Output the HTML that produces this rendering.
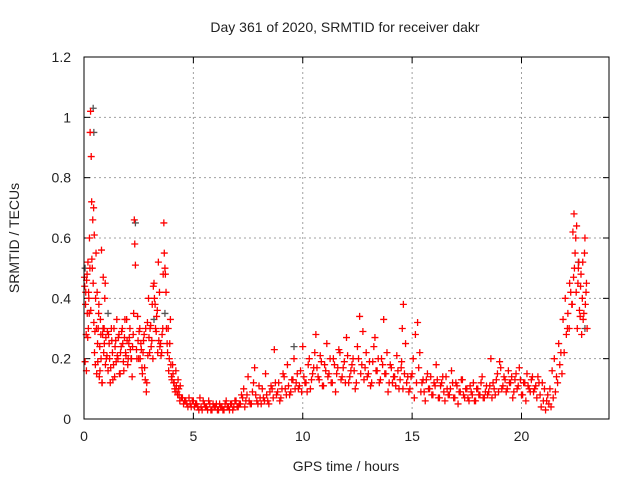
<!DOCTYPE html>
<html><head><meta charset="utf-8"><style>
body{margin:0;background:#fff}
svg text{font-family:"Liberation Sans",sans-serif;font-size:14px;fill:#222}
</style></head><body>
<svg id="chart" width="640" height="480" xmlns="http://www.w3.org/2000/svg">
<text x="345" y="32" text-anchor="middle">Day 361 of 2020, SRMTID for receiver dakr</text>
<text x="346" y="471" text-anchor="middle">GPS time / hours</text>
<text x="0" y="0" text-anchor="middle" transform="translate(19,238) rotate(-90)">SRMTID / TECUs</text>
<g id="grid"></g>
<g id="ticks"></g>
<g id="grey"></g>
<g id="red"></g>
<rect x="84" y="57" width="525" height="362" fill="none" stroke="#000" stroke-width="1"/>
</svg>
<script>
const xTicks=[0,5,10,15,20];
const yTicks=[0,0.2,0.4,0.6,0.8,1,1.2];
const yTickLabels=["0","0.2","0.4","0.6","0.8","1","1.2"];
const redT=[0.02,0.05,0.08,0.1,0.12,0.15,0.18,0.2,0.22,0.25,0.28,0.3,0.33,0.35,0.38,0.4,0.42,0.45,0.48,0.5,0.52,0.55,0.58,0.6,0.62,0.65,0.68,0.7,0.72,0.75,0.78,0.8,0.82,0.85,0.88,0.9,0.92,0.95,0.98,1.0,1.05,1.1,1.15,1.2,1.25,1.3,1.35,1.4,1.45,1.5,1.55,1.6,1.65,1.7,1.75,1.8,1.85,1.9,1.95,2.0,2.05,2.1,2.15,2.2,2.25,2.3,2.32,2.35,2.4,2.45,2.5,2.55,2.6,2.65,2.7,2.75,2.8,2.85,2.9,2.95,3.0,3.05,3.1,3.15,3.2,3.25,3.3,3.35,3.4,3.45,3.5,3.55,3.6,3.62,3.65,3.7,3.75,3.8,3.85,3.9,3.95,4.0,4.05,4.1,4.15,4.2,4.25,4.3,4.35,4.4,4.5,4.6,4.7,4.8,4.9,5.0,5.1,5.2,5.3,5.4,5.5,5.6,5.7,5.8,5.9,6.0,6.1,6.2,6.3,6.4,6.5,6.6,6.7,6.8,6.9,7.0,7.1,7.2,7.3,7.4,7.5,7.6,7.7,7.8,7.9,8.0,8.1,8.2,8.3,8.4,8.5,8.6,8.7,8.8,8.9,9.0,9.1,9.2,9.3,9.4,9.5,9.6,9.7,9.8,9.9,10.0,10.1,10.2,10.3,10.4,10.5,10.6,10.7,10.8,10.9,11.0,11.1,11.2,11.3,11.4,11.5,11.6,11.7,11.8,11.9,12.0,12.1,12.2,12.3,12.4,12.5,12.6,12.7,12.8,12.9,13.0,13.1,13.2,13.3,13.4,13.5,13.6,13.7,13.8,13.9,14.0,14.1,14.2,14.3,14.4,14.5,14.55,14.6,14.7,14.8,14.9,15.0,15.1,15.2,15.3,15.4,15.5,15.6,15.7,15.8,15.9,16.0,16.1,16.2,16.3,16.4,16.5,16.6,16.7,16.8,16.9,17.0,17.1,17.2,17.3,17.4,17.5,17.6,17.7,17.8,17.9,18.0,18.1,18.2,18.3,18.4,18.5,18.6,18.7,18.8,18.9,19.0,19.1,19.2,19.3,19.4,19.5,19.6,19.7,19.8,19.9,20.0,20.1,20.2,20.3,20.4,20.5,20.6,20.7,20.8,20.9,21.0,21.1,21.2,21.3,21.4,21.5,21.6,21.7,21.8,21.9,22.0,22.1,22.2,22.3,22.35,22.4,22.45,22.5,22.55,22.6,22.65,22.7,22.75,22.8,22.85,22.9,22.95,23.0];
const redV=[0.47,0.19,0.42,0.28,0.46,0.35,0.52,0.3,0.4,0.6,0.95,1.02,0.87,0.72,0.5,0.66,0.45,0.32,0.22,0.29,0.18,0.55,0.15,0.42,0.25,0.3,0.38,0.14,0.24,0.33,0.2,0.56,0.12,0.28,0.47,0.22,0.3,0.4,0.18,0.27,0.21,0.16,0.25,0.12,0.3,0.22,0.18,0.14,0.26,0.33,0.2,0.28,0.15,0.24,0.3,0.19,0.27,0.22,0.33,0.18,0.25,0.3,0.2,0.14,0.28,0.66,0.58,0.51,0.23,0.34,0.2,0.3,0.25,0.17,0.22,0.28,0.13,0.09,0.32,0.4,0.22,0.31,0.26,0.2,0.45,0.38,0.29,0.36,0.52,0.42,0.25,0.22,0.3,0.48,0.65,0.5,0.42,0.25,0.3,0.2,0.33,0.14,0.18,0.12,0.1,0.16,0.09,0.13,0.08,0.11,0.07,0.06,0.05,0.07,0.04,0.06,0.05,0.04,0.07,0.03,0.05,0.04,0.06,0.03,0.05,0.04,0.03,0.05,0.04,0.03,0.06,0.04,0.05,0.03,0.06,0.04,0.05,0.08,0.1,0.06,0.14,0.05,0.09,0.17,0.06,0.11,0.05,0.07,0.15,0.06,0.09,0.1,0.23,0.08,0.12,0.07,0.15,0.1,0.18,0.08,0.13,0.2,0.12,0.1,0.16,0.24,0.12,0.09,0.2,0.13,0.17,0.28,0.14,0.21,0.11,0.18,0.25,0.15,0.12,0.2,0.09,0.17,0.22,0.14,0.19,0.27,0.12,0.16,0.2,0.1,0.24,0.34,0.18,0.13,0.22,0.15,0.11,0.19,0.27,0.16,0.12,0.2,0.33,0.15,0.09,0.18,0.12,0.14,0.21,0.1,0.17,0.3,0.38,0.25,0.14,0.1,0.15,0.07,0.12,0.17,0.09,0.13,0.06,0.15,0.1,0.08,0.12,0.18,0.07,0.11,0.14,0.06,0.1,0.08,0.16,0.07,0.12,0.05,0.09,0.13,0.07,0.1,0.06,0.09,0.12,0.06,0.1,0.08,0.14,0.07,0.11,0.09,0.2,0.12,0.08,0.15,0.19,0.1,0.14,0.09,0.16,0.12,0.07,0.13,0.1,0.17,0.08,0.12,0.06,0.11,0.09,0.14,0.1,0.07,0.12,0.04,0.06,0.03,0.08,0.1,0.16,0.2,0.14,0.25,0.22,0.33,0.4,0.3,0.45,0.38,0.62,0.68,0.55,0.42,0.3,0.5,0.36,0.44,0.28,0.52,0.35,0.6,0.42,0.3];
const red2T=[0.03,0.07,0.11,0.14,0.17,0.21,0.24,0.27,0.31,0.36,0.44,0.47,0.53,0.57,0.63,0.67,0.73,0.77,0.83,0.87,0.93,0.97,1.02,1.07,1.12,1.17,1.22,1.27,1.32,1.37,1.42,1.47,1.52,1.57,1.62,1.67,1.72,1.77,1.82,1.87,1.92,1.97,2.02,2.07,2.12,2.17,2.22,2.27,2.42,2.47,2.52,2.57,2.62,2.67,2.72,2.77,2.82,2.87,2.92,2.97,3.02,3.07,3.12,3.17,3.22,3.27,3.32,3.37,3.42,3.47,3.52,3.57,3.67,3.72,3.77,3.82,3.87,3.92,3.97,4.02,4.07,4.12,4.17,4.22,4.28,4.33,4.38,4.45,4.55,4.65,4.75,4.85,4.95,5.05,5.15,5.25,5.35,5.45,5.55,5.65,5.75,5.85,5.95,6.05,6.15,6.25,6.35,6.45,6.55,6.65,6.75,6.85,6.95,7.05,7.15,7.25,7.35,7.45,7.55,7.65,7.75,7.85,7.95,8.05,8.15,8.25,8.35,8.45,8.55,8.65,8.75,8.85,8.95,9.05,9.15,9.25,9.35,9.45,9.55,9.65,9.75,9.85,9.95,10.05,10.15,10.25,10.35,10.45,10.55,10.65,10.75,10.85,10.95,11.05,11.15,11.25,11.35,11.45,11.55,11.65,11.75,11.85,11.95,12.05,12.15,12.25,12.35,12.45,12.55,12.65,12.75,12.85,12.95,13.05,13.15,13.25,13.35,13.45,13.55,13.65,13.75,13.85,13.95,14.05,14.15,14.25,14.35,14.45,14.52,14.58,14.65,14.75,14.85,14.95,15.05,15.15,15.25,15.35,15.45,15.55,15.65,15.75,15.85,15.95,16.05,16.15,16.25,16.35,16.45,16.55,16.65,16.75,16.85,16.95,17.05,17.15,17.25,17.35,17.45,17.55,17.65,17.75,17.85,17.95,18.05,18.15,18.25,18.35,18.45,18.55,18.65,18.75,18.85,18.95,19.05,19.15,19.25,19.35,19.45,19.55,19.65,19.75,19.85,19.95,20.05,20.15,20.25,20.35,20.45,20.55,20.65,20.75,20.85,20.95,21.05,21.15,21.25,21.35,21.45,21.55,21.65,21.75,21.85,21.95,22.05,22.12,22.18,22.25,22.32,22.38,22.42,22.48,22.52,22.58,22.62,22.68,22.72,22.78,22.82,22.88,22.92,22.97];
const red2V=[0.44,0.38,0.16,0.48,0.27,0.42,0.35,0.5,0.36,0.53,0.7,0.61,0.4,0.3,0.19,0.35,0.16,0.28,0.12,0.3,0.25,0.45,0.2,0.29,0.28,0.2,0.17,0.26,0.13,0.3,0.24,0.19,0.21,0.27,0.15,0.22,0.29,0.25,0.16,0.33,0.21,0.26,0.2,0.27,0.23,0.2,0.24,0.35,0.2,0.26,0.29,0.2,0.23,0.15,0.26,0.17,0.3,0.12,0.21,0.27,0.3,0.24,0.38,0.44,0.4,0.3,0.34,0.22,0.26,0.24,0.21,0.28,0.55,0.48,0.3,0.22,0.16,0.25,0.18,0.13,0.15,0.12,0.09,0.11,0.08,0.1,0.06,0.07,0.05,0.06,0.04,0.05,0.06,0.04,0.05,0.03,0.04,0.06,0.04,0.03,0.05,0.03,0.04,0.05,0.03,0.04,0.03,0.05,0.04,0.03,0.05,0.04,0.06,0.04,0.05,0.07,0.04,0.08,0.06,0.05,0.12,0.08,0.05,0.07,0.1,0.06,0.08,0.05,0.11,0.07,0.12,0.09,0.06,0.1,0.14,0.08,0.11,0.09,0.13,0.1,0.15,0.11,0.09,0.14,0.12,0.18,0.1,0.15,0.22,0.17,0.13,0.19,0.11,0.16,0.14,0.2,0.12,0.18,0.15,0.23,0.13,0.17,0.12,0.21,0.14,0.18,0.16,0.12,0.2,0.15,0.29,0.17,0.14,0.19,0.12,0.24,0.16,0.2,0.13,0.18,0.15,0.22,0.12,0.17,0.14,0.11,0.16,0.13,0.19,0.1,0.15,0.12,0.09,0.14,0.2,0.28,0.32,0.22,0.12,0.09,0.13,0.1,0.14,0.08,0.11,0.13,0.07,0.12,0.09,0.14,0.08,0.1,0.12,0.07,0.11,0.09,0.13,0.08,0.1,0.07,0.11,0.08,0.06,0.1,0.08,0.12,0.07,0.09,0.08,0.11,0.07,0.1,0.13,0.09,0.17,0.11,0.13,0.1,0.12,0.14,0.09,0.15,0.11,0.13,0.08,0.12,0.15,0.1,0.13,0.09,0.11,0.14,0.08,0.12,0.1,0.06,0.05,0.04,0.07,0.09,0.12,0.18,0.15,0.22,0.28,0.35,0.3,0.42,0.38,0.47,0.5,0.6,0.64,0.45,0.52,0.34,0.48,0.4,0.33,0.55,0.38,0.45,0.3,0.27,0.5,0.42];
const greyT=[0.05,0.42,0.45,1.1,2.35,3.2,3.7,9.6,22.6,22.9];
const greyV=[0.5,1.03,0.95,0.35,0.65,0.33,0.35,0.24,0.52,0.3];
const X0=84,X1=609,Y0=419,Y1=57,XMAX=24,YMAX=1.2;
const sx=t=>X0+(X1-X0)*t/XMAX, sy=v=>Y0-(Y0-Y1)*v/YMAX;
const NS="http://www.w3.org/2000/svg";
function mk(tag,attrs,parent){const e=document.createElementNS(NS,tag);for(const k in attrs)e.setAttribute(k,attrs[k]);parent.appendChild(e);return e;}
const grid=document.getElementById('grid'),ticks=document.getElementById('ticks');
xTicks.forEach((t,i)=>{const x=sx(t);
 if(t>0){const l=mk('line',{x1:x,x2:x,y1:Y0,y2:Y1,stroke:'#a0a0a0','stroke-dasharray':'2,3'},grid);}
 mk('line',{x1:x,x2:x,y1:Y0,y2:Y0-6,stroke:'#000'},ticks);mk('line',{x1:x,x2:x,y1:Y1,y2:Y1+6,stroke:'#000'},ticks);
 const tx=mk('text',{x:x,y:Y0+22,'text-anchor':'middle'},ticks);tx.textContent=String(t);
 
 });
yTicks.forEach((v,i)=>{const y=sy(v);
 if(v>0&&v<YMAX){const l=mk('line',{x1:X0,x2:X1,y1:y,y2:y,stroke:'#a0a0a0','stroke-dasharray':'2,3'},grid);}
 mk('line',{x1:X0,x2:X0+6,y1:y,y2:y,stroke:'#000'},ticks);mk('line',{x1:X1,x2:X1-6,y1:y,y2:y,stroke:'#000'},ticks);
 const tx=mk('text',{x:X0-13,y:y+5,'text-anchor':'end'},ticks);tx.textContent=yTickLabels[i];
 
 });
function plot(T,V,g,col){T.forEach((t,i)=>{const x=sx(t),y=sy(V[i]);
 const p=mk('path',{d:`M${x-3.5},${y}h7M${x},${y-3.5}v7`,stroke:col,'stroke-width':1.3,fill:'none'},g);
 
 });}
plot(greyT,greyV,document.getElementById('grey'),'#555');
const redG=document.getElementById('red');
plot(redT,redV,redG,'#ff0000');
plot(red2T,red2V,redG,'#ff0000');
</script>
</body></html>
